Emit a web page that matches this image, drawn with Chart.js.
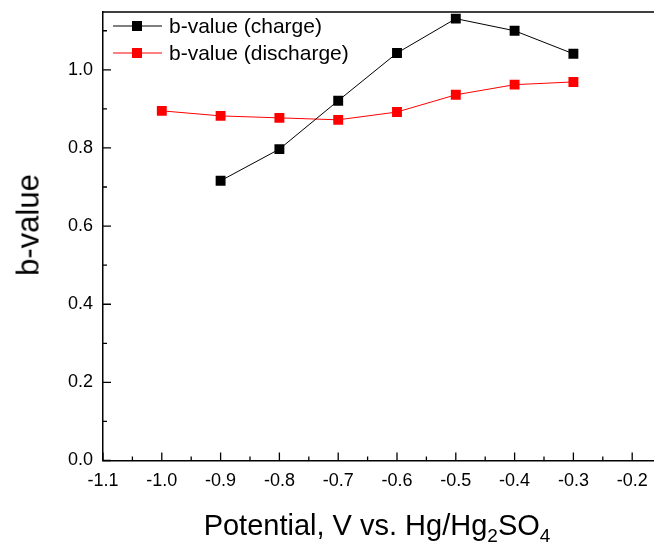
<!DOCTYPE html>
<html>
<head>
<meta charset="utf-8">
<script src="https://cdn.jsdelivr.net/npm/chart.js@4.4.1/dist/chart.umd.min.js"></script>
<style>
    html, body { margin: 0; padding: 0; background: #fff; overflow: hidden; }
    #wrap { position: relative; width: 654px; height: 550px; overflow: hidden; }
    #box { position: absolute; left: 0; top: 0; width: 700px; height: 550px; }
    .axis-title {
        position: absolute; white-space: nowrap; color: #000;
        font-family: "Liberation Sans", Arial, sans-serif;
    }
    #xTitle { left: 377px; top: 525px; font-size: 29px; line-height: 29px; transform: translate(-50%, -50%); }
    #xTitle sub { font-size: 19px; vertical-align: -7px; line-height: 0; }
    #yTitle { left: 28px; top: 225px; font-size: 31px; line-height: 31px; transform: translate(-50%, -50%) rotate(-90deg); }
</style>
</head>
<body>
<div id="wrap">
    <div id="box"><canvas id="bChart" width="700" height="550"></canvas></div>
    <div class="axis-title" id="yTitle">b-value</div>
    <div class="axis-title" id="xTitle">Potential, V vs. Hg/Hg<sub>2</sub>SO<sub>4</sub></div>
</div>
<script>
    // potentials (V) and b-values
    const chargeV = [-0.9, -0.8, -0.7, -0.6, -0.5, -0.4, -0.3];
    const chargeB = [0.716, 0.797, 0.921, 1.043, 1.131, 1.100, 1.041];
    const dischargeV = [-1.0, -0.9, -0.8, -0.7, -0.6, -0.5, -0.4, -0.3];
    const dischargeB = [0.895, 0.882, 0.877, 0.872, 0.892, 0.936, 0.962, 0.969];
    const xTicks = [-1.1, -1.0, -0.9, -0.8, -0.7, -0.6, -0.5, -0.4, -0.3, -0.2, -0.1];
    const yTicks = [0.0, 0.2, 0.4, 0.6, 0.8, 1.0];

    const family = '"Liberation Sans", Arial, sans-serif';
    const tickFont = { family: family, size: 18 };
    const legendSize = 21;

    function toPoints(xs, ys) {
        return xs.map(function (x, i) { return { x: x, y: ys[i] }; });
    }

    // inward major/minor ticks, top frame line, and the inset legend
    const frame = {
        id: 'frame',
        afterDraw: function (chart) {
            const ctx = chart.ctx;
            const area = chart.chartArea;
            const xs = chart.scales.x;
            const ys = chart.scales.y;
            ctx.save();
            ctx.strokeStyle = '#000';
            ctx.lineWidth = 1.5;
            ctx.beginPath();
            ctx.moveTo(area.left, area.top);
            ctx.lineTo(area.right, area.top);
            ctx.stroke();

            ctx.lineWidth = 1.3;
            ctx.beginPath();
            xTicks.forEach(function (v, i) {
                const px = xs.getPixelForValue(v);
                ctx.moveTo(px, area.bottom);
                ctx.lineTo(px, area.bottom - 8);
                if (i < xTicks.length - 1) {
                    const mx = xs.getPixelForValue(v + 0.05);
                    ctx.moveTo(mx, area.bottom);
                    ctx.lineTo(mx, area.bottom - 4);
                }
            });
            yTicks.forEach(function (v) {
                const py = ys.getPixelForValue(v);
                ctx.moveTo(area.left, py);
                ctx.lineTo(area.left + 8, py);
                const my = ys.getPixelForValue(v + 0.1);
                ctx.moveTo(area.left, my);
                ctx.lineTo(area.left + 4, my);
            });
            ctx.stroke();

            // legend
            ctx.font = legendSize + 'px ' + family;
            ctx.textBaseline = 'middle';
            chart.data.datasets.forEach(function (ds, i) {
                const y = area.top + 14 + i * 27;
                const x0 = area.left + 10;
                ctx.strokeStyle = ds.borderColor;
                ctx.lineWidth = 1;
                ctx.beginPath();
                ctx.moveTo(x0, y);
                ctx.lineTo(x0 + 49, y);
                ctx.stroke();
                ctx.fillStyle = ds.backgroundColor;
                ctx.fillRect(x0 + 19, y - 5, 10, 10);
                ctx.fillStyle = '#000';
                ctx.fillText(ds.label, x0 + 56, y + 1);
            });
            ctx.restore();
        }
    };

    const ctx = document.getElementById('bChart').getContext('2d');
    new Chart(ctx, {
        type: 'line',
        data: {
            datasets: [{
                label: 'b-value (charge)',
                data: toPoints(chargeV, chargeB),
                borderColor: '#000000',
                backgroundColor: '#000000',
                borderWidth: 1,
                pointStyle: 'rect',
                pointRadius: 7,
                pointBorderWidth: 0
            }, {
                label: 'b-value (discharge)',
                data: toPoints(dischargeV, dischargeB),
                borderColor: '#ff0000',
                backgroundColor: '#ff0000',
                borderWidth: 1,
                pointStyle: 'rect',
                pointRadius: 7,
                pointBorderWidth: 0
            }]
        },
        options: {
            responsive: false,
            animation: false,
            layout: { padding: { top: 12, right: 9, left: 0, bottom: 0 } },
            plugins: {
                legend: { display: false },
                tooltip: { enabled: false },
                title: { display: false }
            },
            scales: {
                x: {
                    type: 'linear',
                    min: -1.1,
                    max: -0.1,
                    afterBuildTicks: function (scale) {
                        scale.ticks = xTicks.map(function (v) { return { value: v }; });
                    },
                    afterFit: function (scale) {
                        scale.height = 89.5;
                        scale.paddingLeft = 0;
                        scale.paddingRight = 0;
                    },
                    grid: { display: false, drawTicks: false },
                    border: { display: true, color: '#000', width: 1.5 },
                    ticks: {
                        color: '#000',
                        font: tickFont,
                        padding: 10,
                        maxRotation: 0,
                        autoSkip: false,
                        callback: function (v) { return v.toFixed(1); }
                    }
                },
                y: {
                    min: 0,
                    max: 1.148,
                    afterBuildTicks: function (scale) {
                        scale.ticks = yTicks.map(function (v) { return { value: v }; });
                    },
                    afterFit: function (scale) {
                        scale.width = 103;
                        scale.paddingTop = 0;
                        scale.paddingBottom = 0;
                    },
                    grid: { display: false, drawTicks: false },
                    border: { display: true, color: '#000', width: 1.5 },
                    ticks: {
                        color: '#000',
                        font: tickFont,
                        padding: 10,
                        callback: function (v) { return v.toFixed(1); }
                    }
                }
            }
        },
        plugins: [frame]
    });
</script>
</body>
</html>
